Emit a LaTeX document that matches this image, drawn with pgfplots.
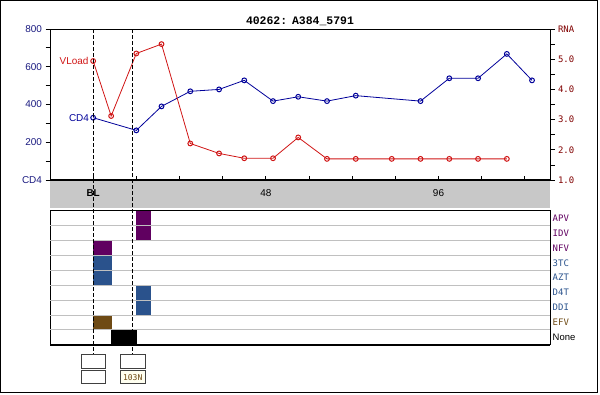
\documentclass[border=0pt]{standalone}
\usepackage{pgfplots}
\pgfplotsset{compat=1.18}
\usepackage{fontspec}
\setmainfont{Liberation Sans}
\newfontfamily\mono{DejaVu Sans Mono}
\newfontfamily\tmono{Liberation Mono}
\definecolor{cdblue}{HTML}{000099}
\definecolor{vlred}{HTML}{D01515}
\definecolor{navy}{HTML}{1A1A80}
\definecolor{dred}{HTML}{800000}
\definecolor{dpurple}{HTML}{600060}
\definecolor{dblue}{HTML}{2A528C}
\definecolor{dbrown}{HTML}{6E4A14}
\definecolor{band}{HTML}{C8C8C8}
\definecolor{rowline}{HTML}{C0C0C0}
\definecolor{boxfill}{HTML}{FFFFF0}

\pgfplotstableread{
w cd4
0 330
12 263
19 390
27 470
35 480
42 528
50 418
57 441
65 418
73 447
91 418
99 539
107 539
115 668
122 528
}\cdtab

\pgfplotstableread{
w rna
0 4.94
5 3.12
12 5.19
19 5.50
27 2.21
35 1.88
42 1.72
50 1.72
57 2.41
65 1.70
73 1.70
83 1.70
91 1.70
99 1.70
107 1.70
115 1.70
}\vltab

\begin{document}
\begin{tikzpicture}[x=1bp,y=1bp]
\path (0,0) rectangle (600,-394);
\draw[black, line width=1bp] (0.5,-0.5) rectangle (597.5,-392.5);
\fill[band] (50,-180) rectangle (550,-207.5);
\node[font=\tmono\bfseries\fontsize{11.5}{13}\selectfont] at (300,-21) {40262:\kern-2bp\ A384\_5791};

% --- upper axis: CD4 (left)
\begin{axis}[name=ax1, at={(50bp,-180bp)}, anchor=south west,
  scale only axis, width=500bp, height=151bp,
  xmin=-12, xmax=127, ymin=0, ymax=800,
  axis line style={black, line width=0.8bp},
  xtick=\empty,
  ytick={0,100,...,800}, yticklabels={CD4,,200,,400,,600,,800},
  ytick pos=left, tick align=outside, major tick length=4.5bp,
  tick style={black, line width=0.8bp},
  yticklabel style={font=\fontsize{10}{12}\selectfont, text=navy},
  clip=false]
\addplot[cdblue, line width=0.8bp, mark=o, mark size=2.4bp, mark options={solid, line width=1bp}] table[x=w, y=cd4] {\cdtab};
\node[anchor=east, text=cdblue, font=\fontsize{10}{12}\selectfont, inner sep=0pt, xshift=-4bp] at (axis cs:0,330) {CD4};
\coordinate (d0) at (axis cs:0,800);
\coordinate (d1) at (axis cs:11,800);
\end{axis}

% --- upper axis: RNA (right)
\begin{axis}[at={(50bp,-180bp)}, anchor=south west,
  scale only axis, width=500bp, height=151bp,
  xmin=-12, xmax=127, ymin=1, ymax=6,
  axis x line=none, axis y line*=right,
  axis line style={black, line width=0.8bp, -},
  ytick={1,1.5,...,6}, yticklabels={1.0,,2.0,,3.0,,4.0,,5.0,,RNA},
  tick align=outside, major tick length=4.5bp,
  tick style={black, line width=0.8bp},
  yticklabel style={font=\mono\fontsize{9}{11}\selectfont, text=dred},
  clip=false]
\addplot[vlred, line width=0.8bp, mark=o, mark size=2.4bp, mark options={solid, line width=1bp}] table[x=w, y=rna] {\vltab};
\node[anchor=east, text=vlred, font=\fontsize{10}{12}\selectfont, inner sep=0pt, xshift=-4.5bp] at (axis cs:0,4.94) {VLoad};
\end{axis}

% --- upper axis: x ticks
\begin{axis}[at={(50bp,-180bp)}, anchor=south west,
  scale only axis, width=500bp, height=151bp,
  xmin=-12, xmax=127, ymin=0, ymax=1,
  hide y axis, axis x line*=bottom,
  axis line style={draw=none},
  xtick={-12,0,...,120}, xticklabels={,\textbf{BL},,,,48,,,,96,,},
  tick align=inside, major tick length=4bp,
  tick style={black, line width=0.8bp},
  xticklabel style={font=\fontsize{10}{12}\selectfont, yshift=-6.5bp}]
\addplot[draw=none] coordinates {(0,0)};
\end{axis}
\draw[line width=2bp] (ax1.south west) -- (ax1.south east);

% --- lower axis: drugs
\begin{axis}[name=low, at={(50bp,-344.7bp)}, anchor=south west,
  scale only axis, width=500bp, height=134bp,
  xmin=-12, xmax=127, ymin=0, ymax=9,
  axis line style={black, line width=0.8bp},
  xtick=\empty,
  ytick={0.5,1.5,...,8.5},
  yticklabels={\normalfont\fontsize{9.5}{11}\selectfont None,\textcolor{dbrown}{EFV},\textcolor{dblue}{DDI},\textcolor{dblue}{D4T},\textcolor{dblue}{AZT},\textcolor{dblue}{3TC},\textcolor{dpurple}{NFV},\textcolor{dpurple}{IDV},\textcolor{dpurple}{APV}},
  ytick pos=right, major tick length=0pt,
  yticklabel style={font=\mono\fontsize{9}{10}\selectfont, inner sep=2.5bp},
  extra y ticks={1,2,...,8}, extra y tick labels={},
  extra y tick style={grid=major, major grid style={rowline, line width=0.8bp}, major tick length=0pt},
  axis on top]
\addplot[fill=dpurple, draw=none] coordinates {(12,7) (16,7) (16,9) (12,9)} -- cycle;
\addplot[fill=dpurple, draw=none] coordinates {(0,6) (5.2,6) (5.2,7) (0,7)} -- cycle;
\addplot[fill=dblue, draw=none] coordinates {(0,4) (5.2,4) (5.2,6) (0,6)} -- cycle;
\addplot[fill=dblue, draw=none] coordinates {(12,2) (16,2) (16,4) (12,4)} -- cycle;
\addplot[fill=dbrown, draw=none] coordinates {(0,1) (5.2,1) (5.2,2) (0,2)} -- cycle;
\addplot[fill=black, draw=none] coordinates {(5,0) (12.2,0) (12.2,1) (5,1)} -- cycle;
\end{axis}
\draw[line width=2bp] (low.south west) -- (low.south east);

% --- dashed event lines and boxes
\foreach \d in {d0,d1}{
  \draw[black, line width=0.8bp, dash pattern=on 4bp off 2bp] (\d) -- (\d |- 0,-354.3);
  \node[draw=black!75, fill=white, line width=0.8bp, minimum width=24.4bp, minimum height=13.4bp, inner sep=0pt, anchor=north] at (\d |- 0,-354.3) {};
}
\node[draw=black!75, fill=white, line width=0.8bp, minimum width=24.4bp, minimum height=13bp, inner sep=0pt, anchor=north] at (d0 |- 0,-370.3) {};
\node[draw=black!75, fill=boxfill, line width=0.8bp, minimum width=24.4bp, minimum height=13bp, inner sep=0pt, anchor=north, text=dbrown, font=\mono\fontsize{8}{9}\selectfont] at (d1 |- 0,-370.3) {103N};
\end{tikzpicture}
\end{document}
